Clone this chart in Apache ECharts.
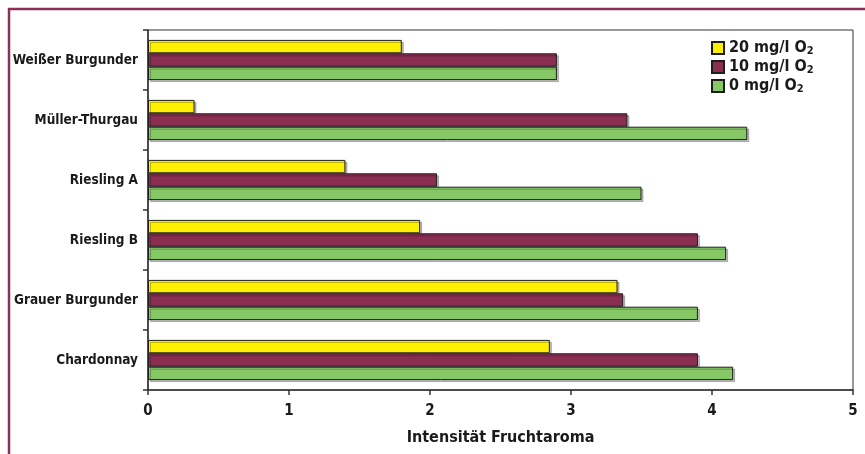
<!DOCTYPE html>
<html>
<head>
<meta charset="utf-8">
<script src="https://cdn.jsdelivr.net/npm/echarts@6/dist/echarts.min.js"></script>
<style>
  html, body { margin: 0; padding: 0; background: #fff; }
  #chart { width: 865px; height: 454px; }
</style>
</head>
<body>
<div id="chart"></div>
<script>
// Wines, listed bottom-to-top along the category axis
var wines = ['Chardonnay', 'Grauer Burgunder', 'Riesling B', 'Riesling A', 'Müller-Thurgau', 'Weißer Burgunder'];

// Fruit aroma intensity per oxygen dose
var o2_0mg  = [4.15, 3.9, 4.1, 3.5, 4.25, 2.9];
var o2_10mg = [3.9, 3.37, 3.9, 2.05, 3.4, 2.9];
var o2_20mg = [2.85, 3.33, 1.93, 1.4, 0.33, 1.8];

var seriesNames = ['20 mg/l O2', '10 mg/l O2', '0 mg/l O2'];
var xTicks = [0, 1, 2, 3, 4, 5];

var FONT = '"Liberation Sans Narrow", "DejaVu Sans Condensed", "Liberation Sans", sans-serif';

var chart = echarts.init(document.getElementById('chart'), null, { renderer: 'canvas' });

function barSeries(name, data, color) {
  return {
    name: name,
    type: 'bar',
    data: data,
    barGap: '0%',
    barCategoryGap: '33%',
    itemStyle: {
      color: color,
      borderColor: '#1e1e1e',
      borderWidth: 1,
      shadowColor: 'rgba(0,0,0,0.25)',
      shadowOffsetX: 2,
      shadowOffsetY: 2,
      shadowBlur: 0
    }
  };
}

chart.setOption({
  animation: false,
  backgroundColor: '#ffffff',
  textStyle: { fontFamily: FONT },
  graphic: [{
    type: 'rect',
    shape: { x: 9, y: 9, width: 900, height: 500 },
    style: { fill: 'none', stroke: '#8e2f57', lineWidth: 2.5 },
    silent: true
  }],
  grid: {
    left: 148, right: 12, top: 30, bottom: 64,
    outerBoundsMode: 'none',
    show: true, borderColor: '#333', borderWidth: 1, backgroundColor: 'transparent'
  },
  legend: {
    orient: 'vertical',
    left: 711, top: 40,
    padding: 0,
    itemWidth: 12, itemHeight: 12, itemGap: 2,
    icon: 'rect',
    data: seriesNames,
    formatter: function (n) {
      return '{a|' + n.slice(0, -1) + '}{s|2}';
    },
    textStyle: {
      rich: {
        a: { fontFamily: FONT, fontSize: 16, fontWeight: 'bold', color: '#1a1a1a' },
        s: { fontFamily: FONT, fontSize: 11, fontWeight: 'bold', color: '#1a1a1a', verticalAlign: 'bottom', padding: [7, 0, 0, 0] }
      }
    }
  },
  xAxis: {
    type: 'value',
    min: xTicks[0], max: xTicks[xTicks.length - 1], interval: 1,
    name: 'Intensität Fruchtaroma',
    nameLocation: 'middle',
    nameGap: 40,
    nameTextStyle: { fontFamily: FONT, fontSize: 16, fontWeight: 'bold', color: '#1a1a1a' },
    axisLine: { show: true, lineStyle: { color: '#333', width: 1.5 } },
    axisTick: { show: true, length: 5, lineStyle: { color: '#333', width: 1.5 } },
    axisLabel: { margin: 14, fontFamily: FONT, fontSize: 15, fontWeight: 'bold', color: '#1a1a1a' },
    splitLine: { show: false }
  },
  yAxis: {
    type: 'category',
    data: wines,
    axisLine: { show: true, lineStyle: { color: '#333', width: 1.5 } },
    axisTick: { show: true, length: 5, lineStyle: { color: '#333', width: 1.5 } },
    axisLabel: { margin: 10, fontFamily: FONT, fontSize: 13.5, fontWeight: 'bold', color: '#1a1a1a' }
  },
  // first series sits at the top of each category band
  series: [
    barSeries(seriesNames[0], o2_20mg, '#fff000'),
    barSeries(seriesNames[1], o2_10mg, '#8a2e52'),
    barSeries(seriesNames[2], o2_0mg, '#86c766')
  ]
});
</script>
</body>
</html>
